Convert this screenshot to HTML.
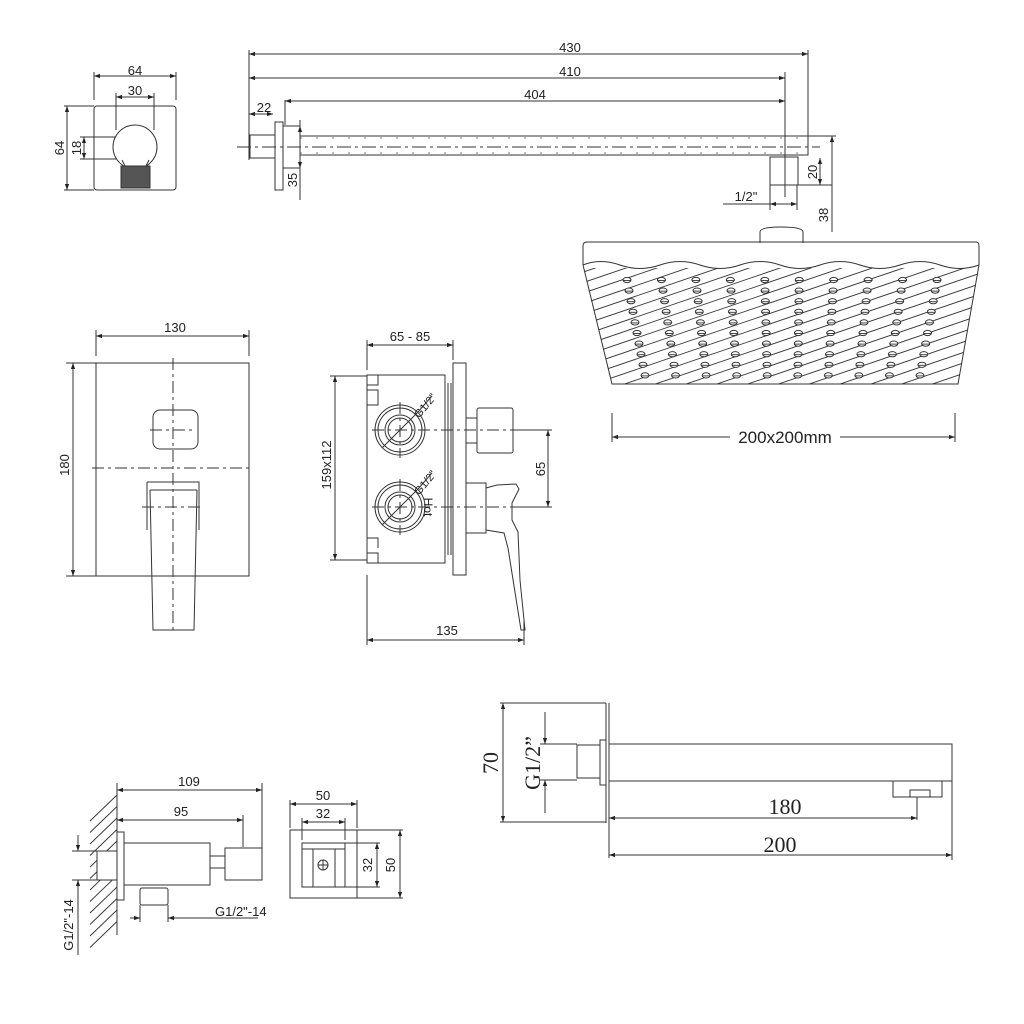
<!DOCTYPE html>
<html><head><meta charset="utf-8"><style>
html,body{margin:0;padding:0;background:#fff}
svg{display:block}
text{font-family:"Liberation Sans",sans-serif;fill:#222;font-size:13px}
.s{font-family:"Liberation Serif",serif;font-size:22px}
</style></head><body>
<svg id="sv" width="1024" height="1024" viewBox="0 0 1024 1024" xmlns="http://www.w3.org/2000/svg">
<defs>
<marker id="a" viewBox="0 0 10 10" refX="10" refY="5" markerWidth="8" markerHeight="6" orient="auto-start-reverse" markerUnits="userSpaceOnUse"><path d="M0,1.5L10,5L0,8.5z" fill="#222"/></marker>
<clipPath id="hc"><path d="M583,268 L979,268 L958,384 L612,384 Z"/></clipPath>
</defs>
<g fill="none" stroke="#333" stroke-width="1">
<rect x="94" y="106" width="82" height="84" rx="3"/>
<circle cx="135" cy="147" r="22"/>
<path d="M122,160 L125,166 L146,166 L149,160"/>
<rect x="121" y="166" width="29" height="22" fill="#555"/>
<path d="M94,100V72 M176,100V72 M116,130V93 M154,130V93 M64,106H94 M64,190H94 M80,137H116 M80,159H116"/>
<path d="M94,76H176" marker-start="url(#a)" marker-end="url(#a)"/>
<path d="M116,97H154" marker-start="url(#a)" marker-end="url(#a)"/>
<path d="M67,106V190" marker-start="url(#a)" marker-end="url(#a)"/>
<path d="M84,137V159" marker-start="url(#a)" marker-end="url(#a)"/>
<path d="M249,50V160 M285,100V125 M785,72V197 M808,50V136"/>
<path d="M249,54H808" marker-start="url(#a)" marker-end="url(#a)"/>
<path d="M249,78H785" marker-start="url(#a)" marker-end="url(#a)"/>
<path d="M285,101H785" marker-start="url(#a)" marker-end="url(#a)"/>
<path d="M249,114H273" marker-start="url(#a)" marker-end="url(#a)"/>
<rect x="250" y="135" width="25" height="23"/>
<rect x="275" y="122" width="8" height="68"/>
<path d="M283,126H300V168H283"/>
<rect x="300" y="136" width="508" height="19"/>
<path d="M300,138H806 M300,153H806" stroke-dasharray="2 14" stroke="#777"/>
<path d="M237,147H820" stroke-dasharray="14 4 3 4"/>
<path d="M300,120V200" />
<path d="M300,126V168" marker-start="url(#a)" marker-end="url(#a)"/>
<rect x="770" y="157" width="28" height="28"/>
<path d="M798,185H832 M808,136H836"/>
<path d="M820,158V185" marker-start="url(#a)" marker-end="url(#a)"/>
<path d="M832,136V232"/><path d="M832,136V185" marker-start="url(#a)"/>
<path d="M770,185V210 M797,185V210 M723,204H797"/>
<path d="M770,204H797" marker-start="url(#a)" marker-end="url(#a)"/>
<path d="M760,243V232Q760,227 781,227Q803,227 803,232V243"/>
<path d="M583,246Q583,242 587,242H976Q979,242 979,246V265L958,384H612L583,265Z"/>
<path d="M583,265Q600,258 620,265T660,265T700,265T740,265T780,265T820,265T860,265T900,265T940,265T979,265"/>
<g id="hatch" clip-path="url(#hc)"></g>
<g id="dots"></g>
<path d="M612,413V442 M955,413V442"/>
<path d="M612,437H700" marker-start="url(#a)"/><path d="M870,437H955" marker-end="url(#a)"/>
<path d="M612,437H730 M840,437H955"/>
<rect x="96" y="363" width="153" height="213"/>
<rect x="153" y="410" width="45" height="39" rx="7"/>
<path d="M96,356V330 M249,356V330 M66,363H96 M66,576H96"/>
<path d="M96,336H249" marker-start="url(#a)" marker-end="url(#a)"/>
<path d="M73,363V576" marker-start="url(#a)" marker-end="url(#a)"/>
<path d="M173,358V630 M92,468H252 M150,430H196 M142,507H203" stroke-dasharray="12 4 3 4"/>
<path d="M147,482H199V530 M147,482V530 M150,490H197"/>
<path d="M150,490L153,630H194L197,490"/>
<rect x="367" y="375" width="78" height="188"/>
<path d="M367,375V385H378V375 M367,553H378V563 M367,390H378V405H367 M367,538H378V548"/>
<path d="M445,383V555 M448,383V555 M451,383V555"/>
<rect x="453" y="363" width="13" height="212"/>
<circle cx="400" cy="430" r="25"/><circle cx="400" cy="430" r="22"/><circle cx="400" cy="430" r="15"/><circle cx="400" cy="430" r="12"/>
<circle cx="400" cy="507" r="25"/><circle cx="400" cy="507" r="22"/><circle cx="400" cy="507" r="15"/><circle cx="400" cy="507" r="12"/>
<path d="M382,448L418,412 M382,525L418,489"/>
<path d="M418,412L432,396 M418,489L432,473"/>
<rect x="466" y="418" width="11" height="25"/>
<rect x="477" y="408" width="36" height="45" rx="2"/>
<path d="M466,483H486V533H466 M486,488L497,485L516,484L519,489L512,503L512,520L518,532L520,580L525,630L521,630L508,548L504,533L486,530"/>
<path d="M372,430H555 M372,507H555 M400,402V458 M400,479V535" stroke-dasharray="12 4 3 4"/>
<path d="M367,370V340 M453,360V340 M330,376H367 M330,560H367 M513,430H552 M520,507H552 M367,575V645 M524,620V645"/>
<path d="M367,345H453" marker-start="url(#a)" marker-end="url(#a)"/>
<path d="M335,376V560" marker-start="url(#a)" marker-end="url(#a)"/>
<path d="M548,430V507" marker-start="url(#a)" marker-end="url(#a)"/>
<path d="M367,640H524" marker-start="url(#a)" marker-end="url(#a)"/>
<path d="M606,703V823 M609,703V858 M500,703H606 M500,822H606 M540,744H577 M540,780H577"/>
<path d="M503,703V822" marker-start="url(#a)" marker-end="url(#a)"/>
<path d="M545,712V744" marker-end="url(#a)"/><path d="M545,780V813" marker-start="url(#a)"/>
<rect x="577" y="745" width="23" height="33"/>
<rect x="600" y="740" width="6" height="45"/>
<rect x="609" y="744" width="343" height="37"/>
<path d="M893,781V797H942V781 M910,797V790H930V797 M917,797V820 M952,781V860"/>
<path d="M609,818H917" marker-start="url(#a)" marker-end="url(#a)"/>
<path d="M609,855H952" marker-start="url(#a)" marker-end="url(#a)"/>
<path d="M117,783V935"/>
<g id="wh"></g>
<path d="M117,790H262" marker-start="url(#a)" marker-end="url(#a)"/>
<path d="M117,820H243" marker-start="url(#a)" marker-end="url(#a)"/>
<path d="M262,783V850 M243,815V847"/>
<rect x="117" y="832" width="7" height="68" fill="#fff"/>
<rect x="97" y="851" width="20" height="29" fill="#fff"/>
<rect x="124" y="843" width="86" height="42"/>
<rect x="210" y="856" width="15" height="12"/>
<rect x="225" y="848" width="37" height="32"/>
<rect x="140" y="888" width="28" height="17" rx="2"/>
<path d="M140,905V922 M168,905V922 M168,918H258"/>
<path d="M130,918H140" marker-end="url(#a)"/><path d="M178,918H168" marker-end="url(#a)"/>
<path d="M72,851H97 M72,880H97"/>
<path d="M78,835V851" marker-end="url(#a)"/><path d="M78,955V880" marker-end="url(#a)"/>
<rect x="290" y="830" width="67" height="68"/>
<rect x="302" y="843" width="43" height="44"/>
<path d="M313,849V887 M335,849V887 M302,849H345"/>
<circle cx="323" cy="865" r="5"/><path d="M318,865H328 M323,860V870"/>
<path d="M290,828V800 M357,828V800 M302,840V818 M345,840V818 M345,843H380 M345,887H380 M357,830H403 M357,898H403"/>
<path d="M290,804H357" marker-start="url(#a)" marker-end="url(#a)"/>
<path d="M302,822H345" marker-start="url(#a)" marker-end="url(#a)"/>
<path d="M377,843V887" marker-start="url(#a)" marker-end="url(#a)"/>
<path d="M400,830V898" marker-start="url(#a)" marker-end="url(#a)"/>
</g>
<g>
<text x="135" y="75" text-anchor="middle">64</text>
<text x="135" y="95" text-anchor="middle">30</text>
<text transform="translate(64,148) rotate(-90)" text-anchor="middle">64</text>
<text transform="translate(81,148) rotate(-90)" text-anchor="middle">18</text>
<text x="570" y="52" text-anchor="middle">430</text>
<text x="570" y="76" text-anchor="middle">410</text>
<text x="535" y="99" text-anchor="middle">404</text>
<text x="264" y="112" text-anchor="middle">22</text>
<text transform="translate(297,180) rotate(-90)" text-anchor="middle">35</text>
<text transform="translate(817,172) rotate(-90)" text-anchor="middle">20</text>
<text transform="translate(828,215) rotate(-90)" text-anchor="middle">38</text>
<text x="746" y="201" text-anchor="middle">1/2"</text>
<text x="785" y="443" text-anchor="middle" style="font-size:17px">200x200mm</text>
<text x="175" y="332" text-anchor="middle">130</text>
<text transform="translate(69,465) rotate(-90)" text-anchor="middle">180</text>
<text x="410" y="341" text-anchor="middle">65 - 85</text>
<text transform="translate(331,465) rotate(-90)" text-anchor="middle">159x112</text>
<text transform="translate(545,469) rotate(-90)" text-anchor="middle">65</text>
<text x="447" y="635" text-anchor="middle">135</text>
<text transform="translate(428,408) rotate(-50)" text-anchor="middle" style="font-size:11px">G1/2"</text>
<text transform="translate(428,485) rotate(-50)" text-anchor="middle" style="font-size:11px">G1/2"</text>
<text transform="translate(424,507) rotate(90)" text-anchor="middle" style="font-size:12px">Hot</text>
<text class="s" transform="translate(498,763) rotate(-90)" text-anchor="middle">70</text>
<text class="s" transform="translate(540,763) rotate(-90)" text-anchor="middle">G1/2”</text>
<text class="s" x="785" y="814" text-anchor="middle">180</text>
<text class="s" x="780" y="852" text-anchor="middle">200</text>
<text x="189" y="786" text-anchor="middle">109</text>
<text x="181" y="816" text-anchor="middle">95</text>
<text x="215" y="916">G1/2"-14</text>
<text transform="translate(73,925) rotate(-90)" text-anchor="middle">G1/2"-14</text>
<text x="323" y="800" text-anchor="middle">50</text>
<text x="323" y="818" text-anchor="middle">32</text>
<text transform="translate(372,865) rotate(-90)" text-anchor="middle">32</text>
<text transform="translate(395,865) rotate(-90)" text-anchor="middle">50</text>
</g>
</svg>
<script>
var NS="http://www.w3.org/2000/svg";
function L(g,x1,y1,x2,y2){var l=document.createElementNS(NS,"line");l.setAttribute("x1",x1);l.setAttribute("y1",y1);l.setAttribute("x2",x2);l.setAttribute("y2",y2);l.setAttribute("stroke","#333");l.setAttribute("stroke-width","0.9");g.appendChild(l);}
var h=document.getElementById("hatch");
for(var i=0;i<40;i++){var y0=280+i*10.5;L(h,560,y0,1000,y0-150);}
var d=document.getElementById("dots");
for(var r=0;r<10;r++){for(var c=0;c<10;c++){
 var t=r/9;var x0=627+18*t, x1=937-17*t;var x=x0+(x1-x0)*c/9;var y=280+r*10.6;
 var e=document.createElementNS(NS,"ellipse");e.setAttribute("cx",x);e.setAttribute("cy",y);e.setAttribute("rx",4);e.setAttribute("ry",2.6);
 e.setAttribute("fill","#fff");e.setAttribute("stroke","#333");e.setAttribute("stroke-width","1");d.appendChild(e);
 L(d,x-3.5,y+0.5,x+3.5,y+0.5);
}}
var w=document.getElementById("wh");
for(var k=0;k<12;k++){var yy=795+k*11.5;L(w,90,yy+26,117,yy);}
w.parentNode.insertBefore(w,w.parentNode.firstChild);
</script>
</body></html>
